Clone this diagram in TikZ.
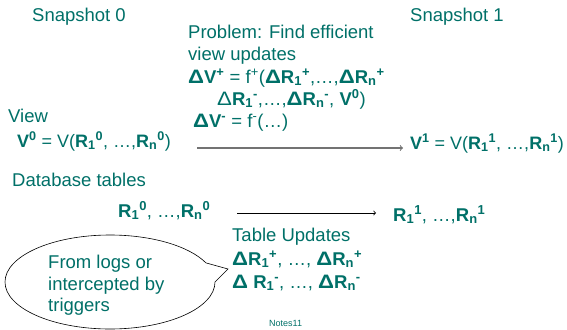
\documentclass[tikz,border=0pt]{standalone}
\usepackage{fontspec}
\setmainfont{Liberation Sans}
\definecolor{slideteal}{RGB}{0,112,104}
\newcommand{\sps}[1]{\textsuperscript{#1}}
\newcommand{\sbs}[1]{\textsubscript{#1}}
\newcommand{\dlt}{\scalebox{1.2}[1.05]{Δ}}
\tikzset{
  txt/.style={anchor=base west, inner sep=0pt, text=slideteal, font=\fontsize{18.5}{22}\selectfont},
  flow/.style={->, line width=0.8pt},
}
\begin{document}
\begin{tikzpicture}[x=1pt, y=-1pt]
  \useasboundingbox (0,0) rectangle (567,329);

  % Snapshots
  \node[txt] (snap0) at (32,22) {Snapshot 0};
  \node[txt] (snap1) at (410,22) {Snapshot 1};

  % Problem statement
  \node[txt] (prob1) at (188,38) {Problem: Find efficient};
  \node[txt] (prob2) at (188,60) {view updates};
  \node[txt] (prob3) at (188,83) {\textbf{\dlt V\sps{+}} = f\sps{+}(\textbf{\dlt R\sbs{1}\sps{+}},…,\textbf{\dlt R\sbs{n}\sps{+}}};
  \node[txt] (prob4) at (217,105) {\dlt\textbf{R\sbs{1}\sps{-}},…,\textbf{\dlt R\sbs{n}\sps{-}}, \textbf{V\sps{0}})};
  \node[txt] (prob5) at (193,127) {\textbf{\dlt V\sps{-}} = f\sps{-}(…)};

  % View
  \node[txt] (view) at (8,122) {View};
  \node[txt, font=\fontsize{18}{22}\selectfont] (v0) at (17,147) {\textbf{V\sps{0}} = V(\textbf{R\sbs{1}\sps{0}}, …,\textbf{R\sbs{n}\sps{0}})};
  \node[txt, font=\fontsize{18}{22}\selectfont] (v1) at (410,149) {\textbf{V\sps{1}} = V(\textbf{R\sbs{1}\sps{1}}, …,\textbf{R\sbs{n}\sps{1}})};
  \coordinate (va) at (197,148);
  \coordinate (vb) at (403,148);
  \draw[flow, black!55, line width=1.1pt] (va) -- (vb);

  % Database tables
  \node[txt] (db) at (12,186) {Database tables};
  \node[txt] (r0) at (118,217) {\textbf{R\sbs{1}\sps{0}}, …,\textbf{R\sbs{n}\sps{0}}};
  \node[txt] (r1) at (393,221) {\textbf{R\sbs{1}\sps{1}}, …,\textbf{R\sbs{n}\sps{1}}};
  \coordinate (ra) at (237,213);
  \coordinate (rb) at (376,213);
  \draw[flow, black] (ra) -- (rb);

  % Table updates
  \node[txt] (upd1) at (232,241) {Table Updates};
  \node[txt] (upd2) at (232,265) {\textbf{\dlt R\sbs{1}\sps{+}}, …, \textbf{\dlt R\sbs{n}\sps{+}}};
  \node[txt] (upd3) at (232,288) {\textbf{\dlt\ R\sbs{1}\sps{-}}, …, \textbf{\dlt R\sbs{n}\sps{-}}};

  % Callout
  \draw[black, line width=0.6pt, fill=white] (215,282)
    arc[start angle=0, end angle=336, x radius=105, y radius=47] -- (228,269) -- cycle;
  \node[txt] (note1) at (48,268) {From logs or};
  \node[txt] (note2) at (48,290) {intercepted by};
  \node[txt] (note3) at (48,311) {triggers};

  \node[txt, font=\fontsize{9}{11}\selectfont] (foot) at (269,326) {Notes11};
\end{tikzpicture}
\end{document}
